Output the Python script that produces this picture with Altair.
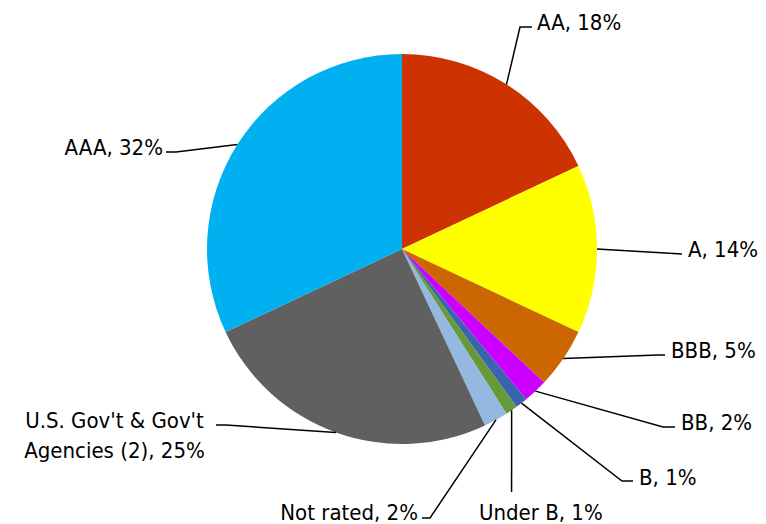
import altair as alt
import pandas as pd
import numpy as np

# ---- data ----
categories = ["AA", "A", "BBB", "BB", "B", "Under B", "Not rated",
              "U.S. Gov't & Gov't Agencies (2)", "AAA"]
values = [18, 14, 5, 2, 1, 1, 2, 25, 32]
label_texts = ["AA, 18%", "A, 14%", "BBB, 5%", "BB, 2%", "B, 1%", "Under B, 1%",
               "Not rated, 2%", "U.S. Gov't & Gov't\nAgencies (2), 25%", "AAA, 32%"]
colors = ["#CC3300", "#FFFF00", "#CC6600", "#CC00FF", "#3A64AE", "#66993A",
          "#95B8E0", "#606060", "#00B0F0"]

# ---- layout (page pixels) ----
W, H = 750, 516
CX, CY, R = 402, 249, 195
label_anchor = [(537, 30), (688, 257), (671, 358), (681, 430), (639, 485),
                (479, 520), (418, 520), (114.5, 428), (163, 155)]
label_align = ["left", "left", "left", "left", "left", "left", "right", "center", "right"]
leader_elbows = [
    [(520, 27), (532, 27)],
    [(682, 254)],
    [(658, 355), (665, 355)],
    [(663, 427), (675, 427)],
    [(622, 481), (633, 481)],
    [(511.6, 492)],
    [(430, 518), (422, 518)],
    [(226, 425), (216, 425)],
    [(176, 152), (166, 152)],
]

df = pd.DataFrame({"category": categories, "value": values, "order": range(len(values))})

total = sum(values)
cum = np.cumsum([0] + values)
rows = []
for i, cat in enumerate(categories):
    mid = (cum[i] + cum[i + 1]) / 2 / total * 2 * np.pi
    sx = CX + R * np.sin(mid)
    sy = CY - R * np.cos(mid)
    pts = [(sx, sy)] + leader_elbows[i]
    for k, (px, py) in enumerate(pts):
        rows.append({"category": cat, "k": k, "px": px, "py": py})
lines_df = pd.DataFrame(rows)

lab_df = pd.DataFrame({
    "category": categories,
    "text": label_texts,
    "px": [a[0] for a in label_anchor],
    "py": [a[1] for a in label_anchor],
    "align": label_align,
})

xs = alt.Scale(domain=[8, 8 + W], nice=False, zero=False)
ys = alt.Scale(domain=[8 + H, 8], nice=False, zero=False)

pie = alt.Chart(df).mark_arc(radius=R).encode(
    theta=alt.Theta("value:Q", stack=True),
    order=alt.Order("order:Q"),
    color=alt.Color("category:N", scale=alt.Scale(domain=categories, range=colors), legend=None),
    x=alt.value(CX - 8),
    y=alt.value(CY - 8),
)

leaders = alt.Chart(lines_df).mark_line(color="black", strokeWidth=1.5).encode(
    x=alt.X("px:Q", scale=xs, axis=None),
    y=alt.Y("py:Q", scale=ys, axis=None),
    detail="category:N",
    order="k:Q",
)

def text_layer(align):
    return alt.Chart(lab_df[lab_df["align"] == align]).mark_text(
        align=align, baseline="alphabetic", font="DejaVu Sans Condensed, Liberation Sans",
        fontSize=22, color="black", lineBreak="\n", lineHeight=30,
    ).encode(
        x=alt.X("px:Q", scale=xs, axis=None),
        y=alt.Y("py:Q", scale=ys, axis=None),
        text="text:N",
    )

chart = alt.layer(pie, leaders, text_layer("left"), text_layer("right"), text_layer("center")).properties(
    width=W, height=H, autosize="none", padding=0,
).configure_view(stroke=None)

chart.save("out.html", embed_options={"renderer": "svg", "actions": False})
